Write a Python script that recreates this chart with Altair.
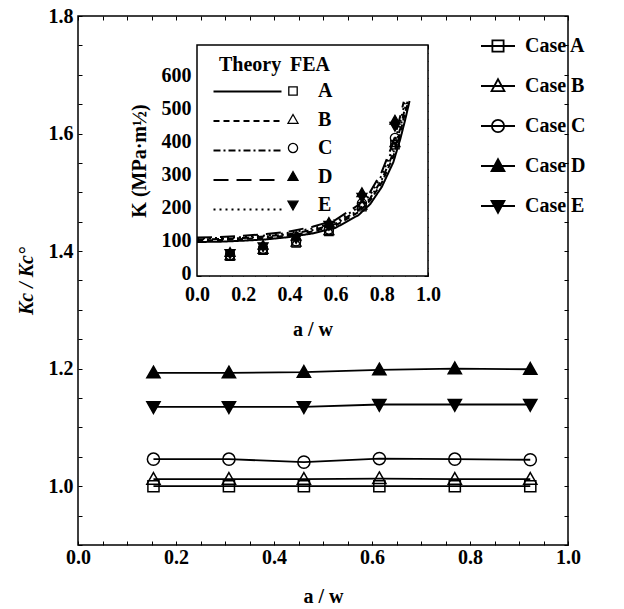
import altair as alt
import pandas as pd

FONT = "Liberation Serif, Times New Roman, DejaVu Serif, serif"
cases = ["A", "B", "C", "D", "E"]

# ---------------- main chart data (Kc / Kc°) ----------------
main_x = [0.154, 0.308, 0.461, 0.615, 0.769, 0.923]
main_A = [1.000, 1.000, 1.000, 1.000, 1.000, 1.000]
main_B = [1.012, 1.012, 1.012, 1.013, 1.012, 1.012]
main_C = [1.046, 1.046, 1.041, 1.047, 1.046, 1.045]
main_D = [1.193, 1.193, 1.194, 1.198, 1.200, 1.199]
main_E = [1.135, 1.135, 1.135, 1.139, 1.139, 1.139]

# ---------------- inset: FEA points (K, MPa·m^1/2) ----------------
fea_x = [0.143, 0.286, 0.429, 0.571, 0.714, 0.857]
fea_A = [60, 78, 100, 135, 210, 398]
fea_B = [61, 80, 102, 137, 214, 404]
fea_C = [63, 82, 105, 141, 220, 418]
fea_D = [71, 93, 120, 162, 252, 472]
fea_E = [68, 89, 114, 154, 239, 454]

# ---------------- inset: theory curves ----------------
th_x_A = [0.0, 0.1, 0.2, 0.3, 0.4, 0.5, 0.6, 0.7, 0.75, 0.8, 0.85, 0.88, 0.9, 0.92]
th_K_A = [103, 104, 107, 111, 118, 129, 146, 185, 218, 270, 345, 415, 470, 530]
th_x_B = [0.0, 0.1, 0.2, 0.3, 0.4, 0.5, 0.6, 0.7, 0.75, 0.8, 0.85, 0.88, 0.9, 0.915]
th_K_B = [108, 109, 112, 116, 123, 135, 153, 194, 229, 283, 362, 435, 493, 528]
th_x_C = [0.0, 0.1, 0.2, 0.3, 0.4, 0.5, 0.6, 0.7, 0.75, 0.8, 0.85, 0.88, 0.9, 0.912]
th_K_C = [111, 112, 115, 120, 127, 139, 158, 200, 236, 292, 373, 448, 508, 528]
th_x_D = [0.0, 0.1, 0.2, 0.3, 0.4, 0.5, 0.6, 0.7, 0.75, 0.8, 0.85, 0.88, 0.895]
th_K_D = [117, 118, 122, 127, 135, 149, 170, 216, 255, 316, 405, 485, 528]
th_x_E = [0.0, 0.1, 0.2, 0.3, 0.4, 0.5, 0.6, 0.7, 0.75, 0.8, 0.85, 0.88, 0.9]
th_K_E = [114, 115, 118, 123, 131, 144, 164, 208, 246, 305, 390, 468, 525]

# ticks
main_x_ticks = [round(i * 0.05, 2) for i in range(21)]
main_y_ticks = [round(0.9 + i * 0.05, 2) for i in range(19)]
in_x_ticks = [round(i * 0.05, 2) for i in range(21)]
in_y_ticks = [i * 25 for i in range(29)]

# marker shapes (unit box) and legend symbols (line + marker)
marker_paths = [
    "M-0.42,-0.42H0.42V0.42H-0.42Z",
    "M0,-0.5L0.5,0.38L-0.5,0.38Z",
    "M-0.46,0A0.46,0.46 0 1,0 0.46,0A0.46,0.46 0 1,0 -0.46,0Z",
    "M0,-0.5L0.5,0.38L-0.5,0.38Z",
    "M0,0.5L0.5,-0.38L-0.5,-0.38Z",
]
legend_paths = [
    "M-1,0H1M-0.33,-0.33H0.33V0.33H-0.33Z",
    "M-1,0H1M0,-0.4L0.38,0.3L-0.38,0.3Z",
    "M-1,0H1M-0.36,0A0.36,0.36 0 1,0 0.36,0A0.36,0.36 0 1,0 -0.36,0Z",
    "M-1,0H1M0,-0.4L0.38,0.3L-0.38,0.3Z",
    "M-1,0H1M0,0.4L0.38,-0.3L-0.38,-0.3Z",
]
fills = ["transparent", "transparent", "transparent", "black", "black"]
strokes = ["black", "black", "black", "black", "black"]
dashes = [[1, 0], [6, 4], [7, 3, 2, 3], [15, 8], [2, 4]]

# ---------------- tables ----------------
main_vals = {"A": main_A, "B": main_B, "C": main_C, "D": main_D, "E": main_E}
df_main = pd.DataFrame(
    [{"x": x, "r": v, "case": c} for c in cases for x, v in zip(main_x, main_vals[c])]
)
fea_vals = {"A": fea_A, "B": fea_B, "C": fea_C, "D": fea_D, "E": fea_E}
df_fea = pd.DataFrame(
    [{"x": x, "K": v, "case": c} for c in cases for x, v in zip(fea_x, fea_vals[c])]
)
th = {"A": (th_x_A, th_K_A), "B": (th_x_B, th_K_B), "C": (th_x_C, th_K_C),
      "D": (th_x_D, th_K_D), "E": (th_x_E, th_K_E)}
df_th = pd.DataFrame(
    [{"x": x, "K": v, "case": c} for c in cases for x, v in zip(*th[c])]
)
in_x_dom = [0.0, 1.0]
in_y_dom = [0, 700]
df_frame = pd.DataFrame({"x0": [in_x_dom[0]], "x1": [in_x_dom[1]],
                         "y0": [in_y_dom[0]], "y1": [in_y_dom[1]]})

# ---------------- geometry ----------------
W, H = 490, 529
IN_L, IN_R, IN_T, IN_B = 119, 350, 29, 260
TS = 4

xs_main = alt.Scale(domain=[0, 1], nice=False, zero=False)
ys_main = alt.Scale(domain=[0.9, 1.8], nice=False, zero=False)
xs_in = alt.Scale(domain=in_x_dom, range=[IN_L, IN_R], nice=False, zero=False)
ys_in = alt.Scale(domain=in_y_dom, range=[IN_B, IN_T], nice=False, zero=False)

lab = dict(labelFont=FONT, labelFontSize=20, labelFontWeight="bold", labelColor="black",
           labelFlush=False, labelOverlap=False)
tit = dict(titleFont=FONT, titleFontSize=20, titleFontWeight="bold", titleColor="black")
tk = dict(domain=False, ticks=True, tickSize=TS, tickColor="black", tickWidth=1, grid=False)


def mirror(orient, offset, values):
    return alt.Axis(orient=orient, offset=offset, values=values, labels=False,
                    title=None, **tk)


ax_main_b = alt.Axis(orient="bottom", offset=-TS, values=main_x_ticks,
                     labelExpr="abs(datum.value*5-round(datum.value*5))<0.001 ? format(datum.value,'.1f') : ''",
                     labelPadding=2, title="a / w", titlePadding=19, **lab, **tit, **tk)
ax_main_l = alt.Axis(orient="left", offset=-TS, values=main_y_ticks,
                     labelExpr="abs(datum.value*5-round(datum.value*5))<0.001 ? format(datum.value,'.1f') : ''",
                     labelPadding=5, title="Kc / Kc°", titlePadding=12,
                     titleFontStyle="italic", **lab, **tit, **tk)
ax_in_b = alt.Axis(orient="bottom", offset=-(H - IN_B) - TS, values=in_x_ticks,
                   labelExpr="abs(datum.value*5-round(datum.value*5))<0.001 ? format(datum.value,'.1f') : ''",
                   labelPadding=8, title="a / w", titlePadding=15, **lab, **tit, **tk)
ax_in_l = alt.Axis(orient="left", offset=-IN_L - TS, values=in_y_ticks,
                   labelExpr="(datum.value % 100 == 0 && datum.value <= 600) ? format(datum.value,'d') : ''",
                   labelPadding=6, labelBaseline="bottom", labelOffset=7,
                   title="K (MPa·m½)", titlePadding=12, **lab, **tit, **tk)

# ---------------- layers ----------------
main_lines = alt.Chart(df_main).mark_line(color="black", strokeWidth=1.8).encode(
    x=alt.X("x:Q", scale=xs_main, axis=ax_main_b),
    y=alt.Y("r:Q", scale=ys_main, axis=ax_main_l),
    detail="case:N",
)

main_points = alt.Chart(df_main).mark_point(
    filled=True, stroke="black", strokeWidth=1.5, size=700, opacity=1
).encode(
    x=alt.X("x:Q", scale=xs_main, axis=mirror("top", -TS, main_x_ticks)),
    y=alt.Y("r:Q", scale=ys_main, axis=mirror("right", -TS, main_y_ticks)),
    shape=alt.Shape("case:N", scale=alt.Scale(domain=cases, range=marker_paths), legend=None),
    fill=alt.Fill("case:N", scale=alt.Scale(domain=cases, range=fills), legend=None),
)

main_leg = alt.Legend(
    title=None, orient="none", legendX=402, legendY=12, padding=0,
    symbolSize=1156, symbolStrokeWidth=1.8,
    labelOffset=9, rowPadding=12, labelExpr="'Case ' + datum.label",
    labelFont=FONT, labelFontSize=20, labelFontWeight="bold", labelColor="black",
)
legend_carrier = alt.Chart(df_main).transform_filter("false").mark_point(
    filled=True, strokeWidth=1.8, opacity=1
).encode(
    shape=alt.Shape("case:N", scale=alt.Scale(domain=cases, range=legend_paths), legend=main_leg),
    fill=alt.Fill("case:N", scale=alt.Scale(domain=cases, range=fills), legend=main_leg),
    stroke=alt.Stroke("case:N", scale=alt.Scale(domain=cases, range=strokes), legend=main_leg),
)

inset_frame = alt.Chart(df_frame).mark_rect(fill="white", stroke="black", strokeWidth=1.5).encode(
    x=alt.X("x0:Q", scale=xs_in, axis=ax_in_b),
    x2="x1:Q",
    y=alt.Y("y0:Q", scale=ys_in, axis=ax_in_l),
    y2="y1:Q",
)

theory_leg = alt.Legend(
    title="Theory", orient="none", legendX=141, legendY=39, padding=0,
    symbolType="M-3.4,0H3.4", symbolSize=400, symbolStrokeWidth=2.2,
    symbolStrokeColor="black", symbolOffset=17, labelExpr="''",
    rowPadding=7.5, titlePadding=5, titleFont=FONT, titleFontSize=20,
    titleFontWeight="bold", titleColor="black", labelFontSize=20,
)
theory = alt.Chart(df_th).mark_line(color="black", strokeWidth=2).encode(
    x=alt.X("x:Q", scale=xs_in, axis=mirror("top", -IN_T - TS, in_x_ticks)),
    y=alt.Y("K:Q", scale=ys_in, axis=mirror("right", -(W - IN_R) - TS, in_y_ticks)),
    strokeDash=alt.StrokeDash("case:N", scale=alt.Scale(domain=cases, range=dashes),
                              legend=theory_leg),
    order="x:Q",
)

fea_leg = alt.Legend(
    title="FEA", orient="none", legendX=212, legendY=39, padding=0,
    symbolSize=400, symbolStrokeWidth=1.3,
    symbolOffset=-8, labelOffset=14, rowPadding=7.5, titlePadding=5,
    titleFont=FONT, titleFontSize=20, titleFontWeight="bold", titleColor="black",
    labelFont=FONT, labelFontSize=20, labelFontWeight="bold", labelColor="black",
)
fea = alt.Chart(df_fea).mark_point(
    filled=True, strokeWidth=1.3, size=400, opacity=1
).encode(
    x=alt.X("x:Q", scale=xs_in, axis=None),
    y=alt.Y("K:Q", scale=ys_in, axis=None),
    shape=alt.Shape("case:N", scale=alt.Scale(domain=cases, range=marker_paths), legend=fea_leg),
    fill=alt.Fill("case:N", scale=alt.Scale(domain=cases, range=fills), legend=fea_leg),
    stroke=alt.Stroke("case:N", scale=alt.Scale(domain=cases, range=strokes), legend=fea_leg),
)

chart = alt.layer(
    main_lines, main_points, legend_carrier, inset_frame, theory, fea
).resolve_scale(
    x="independent", y="independent", shape="independent",
    fill="independent", stroke="independent", strokeDash="independent",
).resolve_axis(
    x="independent", y="independent"
).properties(
    width=W, height=H,
    autosize=alt.AutoSizeParams(type="none"),
    padding={"left": 78, "top": 16, "right": 56, "bottom": 64},
    background="white",
).configure_view(
    stroke="black", strokeWidth=1.5
)

chart.save("out.html", embed_options={"renderer": "svg", "actions": False})
